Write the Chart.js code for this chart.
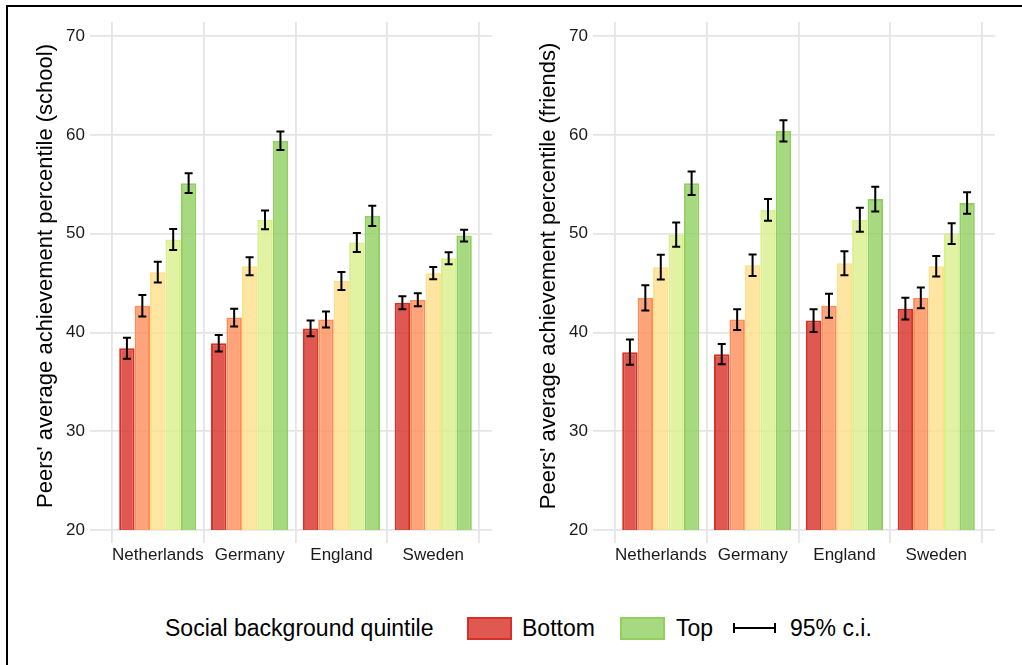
<!DOCTYPE html>
<html>
<head>
<meta charset="utf-8">
<title>Peers' average achievement by social background</title>
<script src="https://cdn.jsdelivr.net/npm/chart.js@4.4.0/dist/chart.umd.min.js"></script>
<style>
  html, body { margin: 0; padding: 0; background: #fff; }
  #figure {
    position: relative; width: 1022px; height: 665px; overflow: hidden;
    font-family: "Liberation Sans", Arial, Helvetica, sans-serif; color: #000;
  }
  .frame {
    position: absolute; left: 6px; top: 5px; width: 1030px; height: 680px;
    border-top: 2px solid #000; border-left: 2px solid #000; pointer-events: none;
  }
  .panel { position: absolute; top: 0; width: 510px; height: 600px; }
  #panel-school { left: 0; }
  #panel-friends { left: 503px; }
  #legend { position: absolute; left: 0; top: 612px; width: 1022px; height: 32px; }
  #legend span { position: absolute; top: 0; line-height: 32px; font-size: 23px; white-space: nowrap; }
  #legend .swatch { top: 5px; width: 45px; height: 23px; box-sizing: border-box; border: 2px solid; }
  #legend .ci-key { top: 11px; width: 43px; height: 10px; }
  .ci-key i { position: absolute; background: #000; }
</style>
</head>
<body>
<div id="figure">
  <canvas id="panel-school" class="panel" width="510" height="600"></canvas>
  <canvas id="panel-friends" class="panel" width="510" height="600"></canvas>
  <div id="legend">
    <span style="left:165px">Social background quintile</span>
    <span class="swatch" id="sw-bottom" style="left:467px"></span>
    <span style="left:522px">Bottom</span>
    <span class="swatch" id="sw-top" style="left:620px"></span>
    <span style="left:676px">Top</span>
    <span class="ci-key" style="left:733px">
      <i style="left:0;top:0;width:2px;height:10px"></i>
      <i style="left:0;top:4px;width:43px;height:2px"></i>
      <i style="left:41px;top:0;width:2px;height:10px"></i>
    </span>
    <span style="left:790px">95% c.i.</span>
  </div>
  <div class="frame"></div>
</div>

<script>
// countries on the x axis
const countries = ['Netherlands', 'Germany', 'England', 'Sweden'];
const quintiles = ['Bottom', '2nd', '3rd', '4th', 'Top'];
const yTicks = [20, 30, 40, 50, 60, 70];

// peers at school: mean percentile per quintile, one value per country
const schoolQ1 = [38.4, 38.9, 40.4, 43.0];
const schoolQ2 = [42.7, 41.5, 41.3, 43.3];
const schoolQ3 = [46.1, 46.7, 45.2, 46.0];
const schoolQ4 = [49.4, 51.4, 49.1, 47.5];
const schoolQ5 = [55.1, 59.4, 51.8, 49.8];
// half width of the 95% interval
const schoolCi1 = [1.06, 0.83, 0.80, 0.65];
const schoolCi2 = [1.08, 0.89, 0.81, 0.66];
const schoolCi3 = [1.05, 0.91, 0.91, 0.63];
const schoolCi4 = [1.07, 0.95, 0.97, 0.61];
const schoolCi5 = [1.00, 0.94, 1.03, 0.60];

// peers among friends
const friendsQ1 = [38.0, 37.8, 41.2, 42.4];
const friendsQ2 = [43.5, 41.3, 42.7, 43.5];
const friendsQ3 = [46.6, 46.8, 47.0, 46.7];
const friendsQ4 = [49.9, 52.4, 51.4, 50.0];
const friendsQ5 = [55.1, 60.4, 53.5, 53.1];
const friendsCi1 = [1.28, 1.03, 1.15, 1.10];
const friendsCi2 = [1.28, 1.05, 1.22, 1.05];
const friendsCi3 = [1.25, 1.08, 1.21, 1.03];
const friendsCi4 = [1.23, 1.11, 1.22, 1.05];
const friendsCi5 = [1.18, 1.08, 1.25, 1.09];

// RdYlGn style palette, bottom -> top quintile
const palette = ['215,48,39', '252,141,89', '254,224,139', '217,239,139', '145,207,96'];

document.getElementById('sw-bottom').style.cssText +=
  `background:rgba(${palette[0]},0.8);border-color:rgb(${palette[0]})`;
document.getElementById('sw-top').style.cssText +=
  `background:rgba(${palette[4]},0.8);border-color:rgb(${palette[4]})`;

const gridColor = '#e5e5e5';
const textColor = '#1a1a1a';
const fontFamily = '"Liberation Sans", Arial, Helvetica, sans-serif';

// whiskers for the confidence intervals, drawn on top of the bars
const errorBars = {
  id: 'errorBars',
  afterDatasetsDraw(chart) {
    const { ctx } = chart;
    const y = chart.scales.y;
    ctx.save();
    ctx.strokeStyle = '#000';
    ctx.lineWidth = 2;
    chart.data.datasets.forEach((ds, d) => {
      chart.getDatasetMeta(d).data.forEach((bar, i) => {
        const v = ds.data[i].y;
        const hi = y.getPixelForValue(v + ds.ci[i]);
        const lo = y.getPixelForValue(v - ds.ci[i]);
        ctx.beginPath();
        ctx.moveTo(bar.x, hi); ctx.lineTo(bar.x, lo);
        ctx.moveTo(bar.x - 4, hi); ctx.lineTo(bar.x + 4, hi);
        ctx.moveTo(bar.x - 4, lo); ctx.lineTo(bar.x + 4, lo);
        ctx.stroke();
      });
    });
    ctx.restore();
  }
};

function makePanel(id, title, means, cis) {
  const datasets = means.map((vals, q) => ({
    label: quintiles[q],
    data: vals.map((v, i) => ({ x: i + 1, y: v })),
    ci: cis[q],
    backgroundColor: `rgba(${palette[q]},0.8)`,
    borderColor: `rgb(${palette[q]})`,
    borderWidth: 2,
    borderSkipped: false,
    categoryPercentage: 0.84,
    barPercentage: 1.0
  }));

  return new Chart(document.getElementById(id), {
    type: 'bar',
    data: { datasets },
    plugins: [errorBars],
    options: {
      responsive: false,
      animation: false,
      layout: { padding: { left: 0, right: 18, top: 22, bottom: 0 } },
      plugins: { legend: { display: false }, tooltip: { enabled: false } },
      scales: {
        x: {
          type: 'linear',
          min: 0.36,
          max: 4.64,
          offset: false,
          afterBuildTicks: (scale) => {
            scale.ticks = [0.5, 1.5, 2.5, 3.5, 4.5].map((v) => ({ value: v }));
          },
          afterFit: (scale) => { scale.height = 70; },
          border: { display: false },
          grid: { offset: false, color: gridColor, lineWidth: 1.8, tickLength: 13 },
          ticks: {
            autoSkip: false,
            maxRotation: 0,
            labelOffset: 46,
            padding: 2,
            color: textColor,
            font: { family: fontFamily, size: 17 },
            callback: (v, i) => countries[i] || ''
          }
        },
        y: {
          min: 20,
          max: 71.42,
          afterBuildTicks: (scale) => {
            scale.ticks = yTicks.map((v) => ({ value: v }));
          },
          afterFit: (scale) => { scale.width = 99; },
          border: { display: false },
          grid: { color: gridColor, lineWidth: 1.8, tickLength: 9 },
          ticks: {
            padding: 5,
            color: textColor,
            font: { family: fontFamily, size: 17 }
          },
          title: {
            display: true,
            text: title,
            color: '#000',
            padding: { top: 33, bottom: 0 },
            font: { family: fontFamily, size: 22 }
          }
        }
      }
    }
  });
}

makePanel('panel-school', "Peers' average achievement percentile (school)",
  [schoolQ1, schoolQ2, schoolQ3, schoolQ4, schoolQ5],
  [schoolCi1, schoolCi2, schoolCi3, schoolCi4, schoolCi5]);

makePanel('panel-friends', "Peers' average achievement percentile (friends)",
  [friendsQ1, friendsQ2, friendsQ3, friendsQ4, friendsQ5],
  [friendsCi1, friendsCi2, friendsCi3, friendsCi4, friendsCi5]);
</script>
</body>
</html>
